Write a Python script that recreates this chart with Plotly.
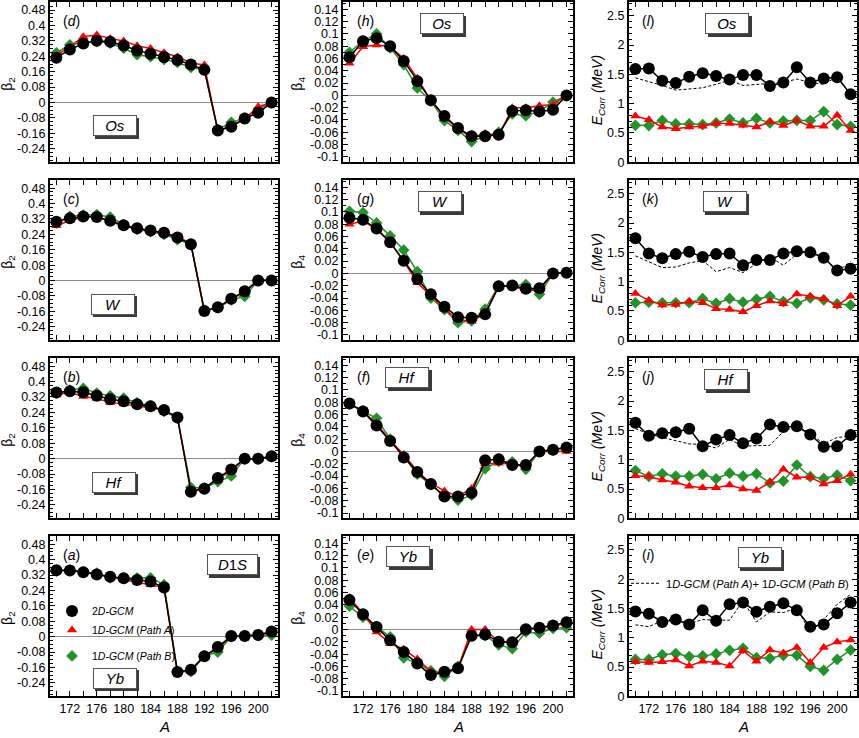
import plotly.graph_objects as go

# ---- data ----
mass_number = [170, 172, 174, 176, 178, 180, 182, 184, 186, 188, 190, 192, 194, 196, 198, 200, 202]
a_tick_vals = [172, 176, 180, 184, 188, 192, 196, 200]
a_tick_text = ["172", "176", "180", "184", "188", "192", "196", "200"]

b2_tick_vals = [-0.24, -0.16, -0.08, 0, 0.08, 0.16, 0.24, 0.32, 0.4, 0.48]
b2_tick_text = ["-0.24", "-0.16", "-0.08", "0", "0.08", "0.16", "0.24", "0.32", "0.4", "0.48"]
b4_tick_vals = [-0.1, -0.08, -0.06, -0.04, -0.02, 0, 0.02, 0.04, 0.06, 0.08, 0.1, 0.12, 0.14]
b4_tick_text = ["-0.1", "-0.08", "-0.06", "-0.04", "-0.02", "0", "0.02", "0.04", "0.06", "0.08", "0.1", "0.12", "0.14"]
e_tick_vals = [0, 0.5, 1, 1.5, 2, 2.5]
e_tick_text = ["0", "0.5", "1", "1.5", "2", "2.5"]

# beta2
os_b2_2d = [0.233, 0.275, 0.306, 0.321, 0.316, 0.296, 0.270, 0.253, 0.236, 0.221, 0.197, 0.170, -0.145, -0.126, -0.083, -0.053, 0.0]
os_b2_pa = [0.245, 0.290, 0.342, 0.350, 0.333, 0.320, 0.295, 0.280, 0.258, 0.238, 0.205, 0.195, -0.148, -0.120, -0.085, -0.022, 0.0]
os_b2_pb = [0.258, 0.300, 0.310, 0.318, 0.308, 0.282, 0.248, 0.238, 0.224, 0.208, 0.182, 0.170, -0.140, -0.103, -0.080, -0.035, 0.0]

w_b2_2d = [0.306, 0.323, 0.333, 0.330, 0.310, 0.287, 0.272, 0.260, 0.248, 0.224, 0.189, -0.158, -0.139, -0.094, -0.056, 0.0, 0.0]
w_b2_pa = [0.285, 0.312, 0.330, 0.330, 0.308, 0.282, 0.268, 0.256, 0.245, 0.232, 0.190, -0.160, -0.140, -0.097, -0.060, 0.005, 0.0]
w_b2_pb = [0.300, 0.333, 0.340, 0.342, 0.330, 0.290, 0.266, 0.254, 0.240, 0.213, 0.188, -0.155, -0.142, -0.100, -0.082, 0.0, 0.0]

hf_b2_2d = [0.343, 0.350, 0.345, 0.326, 0.308, 0.298, 0.282, 0.272, 0.252, 0.214, -0.172, -0.156, -0.100, -0.056, 0.0, 0.0, 0.012]
hf_b2_pa = [0.330, 0.345, 0.322, 0.312, 0.292, 0.283, 0.274, 0.264, 0.250, 0.216, -0.166, -0.155, -0.105, -0.062, 0.0, 0.0, 0.005]
hf_b2_pb = [0.340, 0.356, 0.365, 0.340, 0.326, 0.314, 0.290, 0.275, 0.245, 0.210, -0.150, -0.152, -0.120, -0.090, 0.0, 0.0, 0.010]

yb_b2_2d = [0.345, 0.343, 0.335, 0.323, 0.311, 0.303, 0.294, 0.286, 0.255, -0.184, -0.172, -0.102, -0.054, 0.003, 0.003, 0.009, 0.027]
yb_b2_pa = [0.345, 0.345, 0.340, 0.325, 0.308, 0.295, 0.283, 0.270, 0.255, -0.186, -0.170, -0.100, -0.060, 0.0, 0.003, 0.010, 0.020]
yb_b2_pb = [0.340, 0.345, 0.335, 0.330, 0.305, 0.303, 0.305, 0.305, 0.270, -0.180, -0.182, -0.100, -0.080, 0.0, 0.003, 0.005, 0.008]

# beta4
os_b4_2d = [0.062, 0.088, 0.093, 0.080, 0.056, 0.023, -0.008, -0.0335, -0.053, -0.0665, -0.0665, -0.064, -0.0255, -0.024, -0.026, -0.0235, 0.0]
os_b4_pa = [0.052, 0.079, 0.082, 0.079, 0.060, 0.028, -0.008, -0.035, -0.055, -0.068, -0.062, -0.066, -0.020, -0.020, -0.017, -0.015, 0.0]
os_b4_pb = [0.070, 0.088, 0.100, 0.077, 0.050, 0.012, -0.009, -0.041, -0.057, -0.075, -0.066, -0.060, -0.030, -0.033, -0.026, -0.011, 0.0]

w_b4_2d = [0.0905, 0.087, 0.073, 0.0505, 0.0207, -0.009, -0.034, -0.054, -0.071, -0.072, -0.0665, -0.021, -0.0197, -0.025, -0.024, 0.0, 0.001]
w_b4_pa = [0.080, 0.085, 0.072, 0.050, 0.020, -0.015, -0.036, -0.058, -0.075, -0.078, -0.065, -0.020, -0.020, -0.028, -0.027, 0.0, 0.001]
w_b4_pb = [0.101, 0.099, 0.082, 0.061, 0.038, 0.003, -0.040, -0.059, -0.080, -0.077, -0.058, -0.020, -0.020, -0.018, -0.034, 0.0, 0.001]

hf_b4_2d = [0.078, 0.065, 0.042, 0.017, -0.0096, -0.0335, -0.053, -0.073, -0.073, -0.067, -0.0144, -0.0128, -0.022, -0.022, 0.0, 0.0027, 0.0064]
hf_b4_pa = [0.077, 0.065, 0.045, 0.018, -0.005, -0.032, -0.052, -0.064, -0.073, -0.060, -0.020, -0.019, -0.020, -0.024, 0.0, 0.0, 0.0]
hf_b4_pb = [0.077, 0.066, 0.054, 0.020, -0.008, -0.037, -0.054, -0.072, -0.079, -0.071, -0.028, -0.016, -0.017, -0.029, 0.0, 0.002, 0.006]

yb_b4_2d = [0.048, 0.025, 0.004, -0.0176, -0.0367, -0.055, -0.074, -0.0687, -0.063, -0.010, -0.008, -0.0197, -0.0208, 0.0005, 0.003, 0.0064, 0.012]
yb_b4_pa = [0.052, 0.026, -0.004, -0.023, -0.032, -0.048, -0.068, -0.070, -0.063, 0.0, 0.0, -0.020, -0.020, 0.0, 0.002, 0.005, 0.010]
yb_b4_pb = [0.038, 0.020, 0.005, -0.012, -0.046, -0.055, -0.067, -0.076, -0.060, -0.010, -0.010, -0.025, -0.031, -0.004, -0.006, 0.002, 0.003]

# correlation energy (MeV)
os_e_2d = [1.59, 1.60, 1.39, 1.35, 1.46, 1.52, 1.47, 1.41, 1.49, 1.49, 1.30, 1.36, 1.62, 1.36, 1.43, 1.45, 1.16]
os_e_pa = [0.79, 0.725, 0.60, 0.57, 0.60, 0.614, 0.66, 0.66, 0.63, 0.60, 0.69, 0.625, 0.71, 0.614, 0.614, 0.80, 0.54]
os_e_pb = [0.63, 0.625, 0.714, 0.653, 0.653, 0.642, 0.67, 0.737, 0.67, 0.748, 0.67, 0.703, 0.714, 0.71, 0.865, 0.642, 0.614]
os_e_sum = [1.44, 1.38, 1.31, 1.23, 1.25, 1.27, 1.33, 1.40, 1.31, 1.33, 1.34, 1.36, 1.42, 1.36, 1.33, 1.46, 1.16]

w_e_2d = [1.74, 1.48, 1.40, 1.47, 1.51, 1.42, 1.47, 1.48, 1.28, 1.37, 1.37, 1.48, 1.52, 1.50, 1.41, 1.19, 1.22]
w_e_pa = [0.80, 0.68, 0.60, 0.61, 0.66, 0.64, 0.54, 0.525, 0.485, 0.59, 0.67, 0.625, 0.79, 0.75, 0.71, 0.59, 0.75]
w_e_pb = [0.64, 0.65, 0.64, 0.64, 0.64, 0.71, 0.63, 0.71, 0.65, 0.70, 0.75, 0.66, 0.63, 0.725, 0.69, 0.62, 0.60]
w_e_sum = [1.44, 1.34, 1.24, 1.25, 1.32, 1.36, 1.17, 1.24, 1.155, 1.31, 1.42, 1.28, 1.47, 1.52, 1.41, 1.17, 1.34]

hf_e_2d = [1.63, 1.41, 1.45, 1.47, 1.53, 1.23, 1.345, 1.42, 1.28, 1.36, 1.60, 1.56, 1.57, 1.43, 1.22, 1.23, 1.42]
hf_e_pa = [0.725, 0.714, 0.653, 0.614, 0.547, 0.52, 0.52, 0.57, 0.50, 0.474, 0.614, 0.837, 0.703, 0.703, 0.586, 0.642, 0.753]
hf_e_pb = [0.815, 0.714, 0.76, 0.72, 0.72, 0.75, 0.675, 0.77, 0.72, 0.76, 0.603, 0.636, 0.91, 0.71, 0.68, 0.737, 0.642]
hf_e_sum = [1.53, 1.44, 1.38, 1.33, 1.27, 1.26, 1.20, 1.35, 1.23, 1.24, 1.245, 1.48, 1.58, 1.45, 1.27, 1.38, 1.40]

yb_e_2d = [1.45, 1.41, 1.27, 1.31, 1.225, 1.47, 1.29, 1.57, 1.60, 1.445, 1.53, 1.59, 1.47, 1.19, 1.225, 1.42, 1.60]
yb_e_pa = [0.59, 0.58, 0.59, 0.62, 0.52, 0.60, 0.58, 0.52, 0.78, 0.60, 0.79, 0.74, 0.835, 0.58, 0.835, 0.93, 0.96]
yb_e_pb = [0.63, 0.63, 0.71, 0.73, 0.68, 0.69, 0.725, 0.785, 0.82, 0.66, 0.65, 0.70, 0.70, 0.51, 0.445, 0.63, 0.79]
yb_e_sum = [1.22, 1.19, 1.29, 1.33, 1.24, 1.31, 1.30, 1.30, 1.63, 1.27, 1.44, 1.43, 1.51, 1.09, 1.31, 1.57, 1.74]

elements = ["Os", "W", "Hf", "Yb"]
panel_letters = [["d", "h", "l"], ["c", "g", "k"], ["b", "f", "j"], ["a", "e", "i"]]

# ---- styling ----
W, H = 859, 738
BLACK, RED, GREEN = "#000000", "#ff0000", "#23922a"
FONT = "Liberation Sans, Arial, Helvetica, sans-serif"

col_px = [(50, 278), (343, 573), (629, 857)]
row_px = [(1, 163), (181, 343), (361, 523), (541, 703)]

panels = [
    [(os_b2_2d, os_b2_pa, os_b2_pb, None), (os_b4_2d, os_b4_pa, os_b4_pb, None), (os_e_2d, os_e_pa, os_e_pb, os_e_sum)],
    [(w_b2_2d, w_b2_pa, w_b2_pb, None), (w_b4_2d, w_b4_pa, w_b4_pb, None), (w_e_2d, w_e_pa, w_e_pb, w_e_sum)],
    [(hf_b2_2d, hf_b2_pa, hf_b2_pb, None), (hf_b4_2d, hf_b4_pa, hf_b4_pb, None), (hf_e_2d, hf_e_pa, hf_e_pb, hf_e_sum)],
    [(yb_b2_2d, yb_b2_pa, yb_b2_pb, None), (yb_b4_2d, yb_b4_pa, yb_b4_pb, None), (yb_e_2d, yb_e_pa, yb_e_pb, yb_e_sum)],
]

columns = [
    dict(rng=[-0.31, 0.522], tv=b2_tick_vals, tt=b2_tick_text, minor=0.02, zero=True,
         title="β<sub>2</sub>", tx=-0.184, ty=0.49),
    dict(rng=[-0.1086, 0.1517], tv=b4_tick_vals, tt=b4_tick_text, minor=0.01, zero=True,
         title="β<sub>4</sub>", tx=-0.196, ty=0.49),
    dict(rng=[0, 2.734], tv=e_tick_vals, tt=e_tick_text, minor=0.1, zero=False,
         title="<i>E</i><sub><i>Corr</i></sub><i> (MeV)</i>", tx=-0.135, ty=0.45),
]

# element-label box centres (axis-domain units)
box_pos = [
    [(0.285, 0.227), (0.43, 0.865), (0.43, 0.865)],
    [(0.276, 0.225), (0.42, 0.865), (0.42, 0.865)],
    [(0.28, 0.225), (0.28, 0.877), (0.425, 0.865)],
    [(0.285, 0.112), (0.283, 0.87), (0.573, 0.865)],
]

series_style = [
    # (index, colour, symbol, size, name, group, rank)
    (2, GREEN, "diamond", 9, "1<i>D-GCM</i> (<i>Path B</i>)", "g2", 3),
    (1, RED, "triangle-up", 9, "1<i>D-GCM</i> (<i>Path A</i>)", "g1", 2),
    (0, BLACK, "circle", 12, "2<i>D-GCM</i>", "g1", 1),
]

fig = go.Figure()
layout = {}
annotations = []


def box(text, xref, yref, x, y, width, size=15):
    base = dict(xref=xref, yref=yref, x=x, y=y, xanchor="center", yanchor="middle",
                showarrow=False, width=width, height=17, borderpad=1, borderwidth=1)
    # drop shadow: a plain dark box offset down-right
    shadow = dict(base, text="&nbsp;", bgcolor="#3a3a3a", bordercolor="#3a3a3a",
                  font=dict(size=size), xshift=2.5, yshift=-2.5)
    main = dict(base, text=text, bgcolor="white", bordercolor="#555555",
                font=dict(size=size, color=BLACK))
    return [shadow, main]


for r, el in enumerate(elements):
    for c in range(3):
        k = r * 3 + c + 1
        xid = "x" if k == 1 else f"x{k}"
        yid = "y" if k == 1 else f"y{k}"
        spec = columns[c]
        data = panels[r][c]

        if data[3] is not None:
            fig.add_trace(go.Scatter(
                x=mass_number, y=data[3], mode="lines", xaxis=xid, yaxis=yid,
                line=dict(color=BLACK, width=1, dash="3px,2px"),
                name="1<i>D-GCM</i> (<i>Path A</i>)+ 1<i>D-GCM</i> (<i>Path B</i>)",
                legend="legend2", showlegend=(r == 3), hoverinfo="skip"))

        for idx, color, sym, size, name, group, rank in series_style:
            ys = data[idx]
            fig.add_trace(go.Scatter(
                x=mass_number, y=ys, mode="lines", xaxis=xid, yaxis=yid,
                line=dict(color=color, width=1.5), showlegend=False, hoverinfo="skip"))
            fig.add_trace(go.Scatter(
                x=mass_number, y=ys, mode="markers", xaxis=xid, yaxis=yid,
                marker=dict(symbol=sym, size=size, color=color, line=dict(width=0)),
                name=name, legendgroup=group, legendrank=rank,
                showlegend=(r == 3 and c == 0)))

        x0, x1 = col_px[c]
        yt, yb = row_px[r]
        common = dict(showline=True, linecolor=BLACK, linewidth=2, mirror="ticks",
                      ticks="inside", ticklen=5, tickwidth=1, tickcolor=BLACK,
                      showgrid=False, tickfont=dict(size=12.5, color=BLACK, family=FONT))
        layout["xaxis" if k == 1 else f"xaxis{k}"] = dict(
            common, domain=[x0 / W, x1 / W], anchor=yid, range=[169.05, 202.95],
            tickmode="array", tickvals=a_tick_vals, ticktext=a_tick_text,
            minor=dict(tickmode="linear", tick0=170, dtick=2, ticks="inside",
                       ticklen=5, tickwidth=1, tickcolor=BLACK, showgrid=False),
            showticklabels=(r == 3), zeroline=False)
        layout["yaxis" if k == 1 else f"yaxis{k}"] = dict(
            common, domain=[1 - yb / H, 1 - yt / H], anchor=xid, range=spec["rng"],
            tickmode="array", tickvals=spec["tv"], ticktext=spec["tt"],
            minor=dict(tickmode="linear", tick0=0, dtick=spec["minor"], ticks="inside",
                       ticklen=3, tickwidth=1, tickcolor=BLACK, showgrid=False),
            zeroline=spec["zero"], zerolinecolor="#8c8c8c", zerolinewidth=1)

        xd, yd = f"{xid} domain", f"{yid} domain"
        annotations.append(dict(text=f"(<i>{panel_letters[r][c]}</i>)", xref=xd, yref=yd,
                                x=0.05, y=0.88, xanchor="left", yanchor="middle",
                                showarrow=False, font=dict(size=14, color=BLACK)))
        annotations.append(dict(text=spec["title"], xref=xd, yref=yd, x=spec["tx"], y=spec["ty"],
                                xanchor="center", yanchor="middle",
                                textangle=-90, showarrow=False, font=dict(size=14, color=BLACK)))
        bx, by = box_pos[r][c]
        annotations.extend(box(f"<i>{el}</i>", xd, yd, bx, by, 40))
        if r == 3:
            annotations.append(dict(text="<i>A</i>", xref=xd, yref=yd, x=0.5, y=-0.19,
                                    xanchor="center", yanchor="middle",
                                    showarrow=False, font=dict(size=15, color=BLACK)))
        if r == 3 and c == 0:
            annotations.extend(box("<i>D</i>1<i>S</i>", xd, yd, 0.80, 0.82, 47))

fig.update_layout(
    **layout,
    annotations=annotations,
    width=W, height=H,
    margin=dict(l=0, r=0, t=0, b=0),
    paper_bgcolor="white", plot_bgcolor="white",
    font=dict(family=FONT, size=12, color=BLACK),
    legend=dict(x=52 / W, y=1 - 602 / H, xanchor="left", yanchor="top",
                bgcolor="rgba(0,0,0,0)", font=dict(size=10.5), traceorder="grouped",
                tracegroupgap=7, itemwidth=30),
    legend2=dict(x=626 / W, y=1 - 574 / H, xanchor="left", yanchor="top",
                 bgcolor="rgba(0,0,0,0)", font=dict(size=11), itemwidth=30),
    showlegend=True,
)

fig.write_html("out.html", config={"displayModeBar": False},
               post_script="document.body.style.margin='0px';")
